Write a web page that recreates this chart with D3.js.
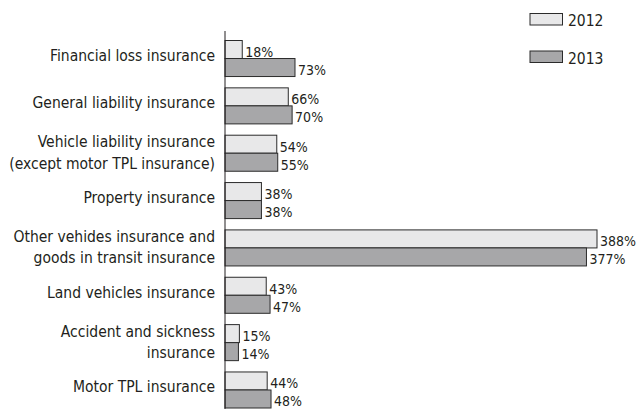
<!DOCTYPE html>
<html>
<head>
<meta charset="utf-8">
<script src="https://cdn.jsdelivr.net/npm/d3@7"></script>
<style>
    body { margin: 0; background: #fff; }
    svg text { font-family: "DejaVu Sans Condensed", "DejaVu Sans", sans-serif; fill: #231f20; }
</style>
</head>
<body>
<script>
(function(){

    var categories = [
        ["Financial loss insurance"],
        ["General liability insurance"],
        ["Vehicle liability insurance", "(except motor TPL insurance)"],
        ["Property insurance"],
        ["Other vehides insurance and", "goods in transit insurance"],
        ["Land vehicles insurance"],
        ["Accident and sickness", "insurance"],
        ["Motor TPL insurance"]
    ];
    var series = ["2012", "2013"];
    var values2012 = [18, 66, 54, 38, 388, 43, 15, 44];
    var values2013 = [73, 70, 55, 38, 377, 47, 14, 48];
    var colors = ["#e8e8e9", "#a7a7a9"];

    var width = 636,
        height = 409;

    var svg = d3.select("body")
        .append("svg")
        .attr("width", width)
        .attr("height", height);

    var rows = categories.map(function(c, i) {
        return { key: i, label: c, vals: [values2012[i], values2013[i]] };
    });

    var xScale = d3.scaleLinear()
        .domain([0, 388])
        .range([225, 597]);

    var yScale = d3.scaleBand()
        .domain(rows.map(function(d) { return d.key; }))
        .range([40, 407.5])
        .paddingInner(0.239)
        .paddingOuter(0);

    var subScale = d3.scaleBand()
        .domain(series)
        .range([0, yScale.bandwidth()]);

    var groups = svg.selectAll(".cat")
        .data(rows)
        .enter()
        .append("g")
        .attr("class", "cat")
        .attr("transform", function(d) { return "translate(0," + yScale(d.key) + ")"; });

    groups.selectAll("rect")
        .data(function(d) { return d.vals.map(function(v, j) { return { s: series[j], v: v, j: j }; }); })
        .enter()
        .append("rect")
        .attr("x", xScale(0))
        .attr("y", function(d) { return subScale(d.s) + 0.5; })
        .attr("width", function(d) { return xScale(d.v) - xScale(0); })
        .attr("height", subScale.bandwidth())
        .style("fill", function(d) { return colors[d.j]; })
        .style("stroke", "#2b2b2b")
        .style("stroke-width", 1);

    groups.selectAll(".numbers")
        .data(function(d) { return d.vals.map(function(v, j) { return { s: series[j], v: v }; }); })
        .enter()
        .append("text")
        .attr("class", "numbers")
        .attr("x", function(d) { return xScale(d.v) + 3; })
        .attr("y", function(d) { return subScale(d.s) + subScale.bandwidth() - 1; })
        .style("font-size", "14px")
        .text(function(d) { return d.v + "%"; });

    groups.append("text")
        .attr("class", "catLabel")
        .attr("text-anchor", "end")
        .attr("x", 215)
        .attr("y", function(d) {
            var mid = yScale.bandwidth() / 2;
            return d.label.length == 1 ? mid + 3 : mid - 5.5;
        })
        .style("font-size", "15.5px")
        .selectAll("tspan")
        .data(function(d) { return d.label; })
        .enter()
        .append("tspan")
        .attr("x", 215)
        .attr("dy", function(d, i) { return i == 0 ? 0 : 21.5; })
        .text(function(d) { return d; });

    // vertical axis line
    svg.append("line")
        .attr("x1", xScale(0))
        .attr("x2", xScale(0))
        .attr("y1", 31)
        .attr("y2", height)
        .style("stroke", "#231f20")
        .style("stroke-width", 1);

    // legend
    var legend = svg.selectAll(".legend")
        .data(series)
        .enter()
        .append("g")
        .attr("class", "legend")
        .attr("transform", function(d, i) { return "translate(530," + (13.5 + i * 37.5) + ")"; });

    legend.append("rect")
        .attr("width", 32.5)
        .attr("height", 11.5)
        .style("fill", function(d, i) { return colors[i]; })
        .style("stroke", "#2b2b2b");

    legend.append("text")
        .attr("x", 38)
        .attr("y", 12.5)
        .style("font-size", "15.5px")
        .text(function(d) { return d; });

})();
</script>
</body>
</html>
